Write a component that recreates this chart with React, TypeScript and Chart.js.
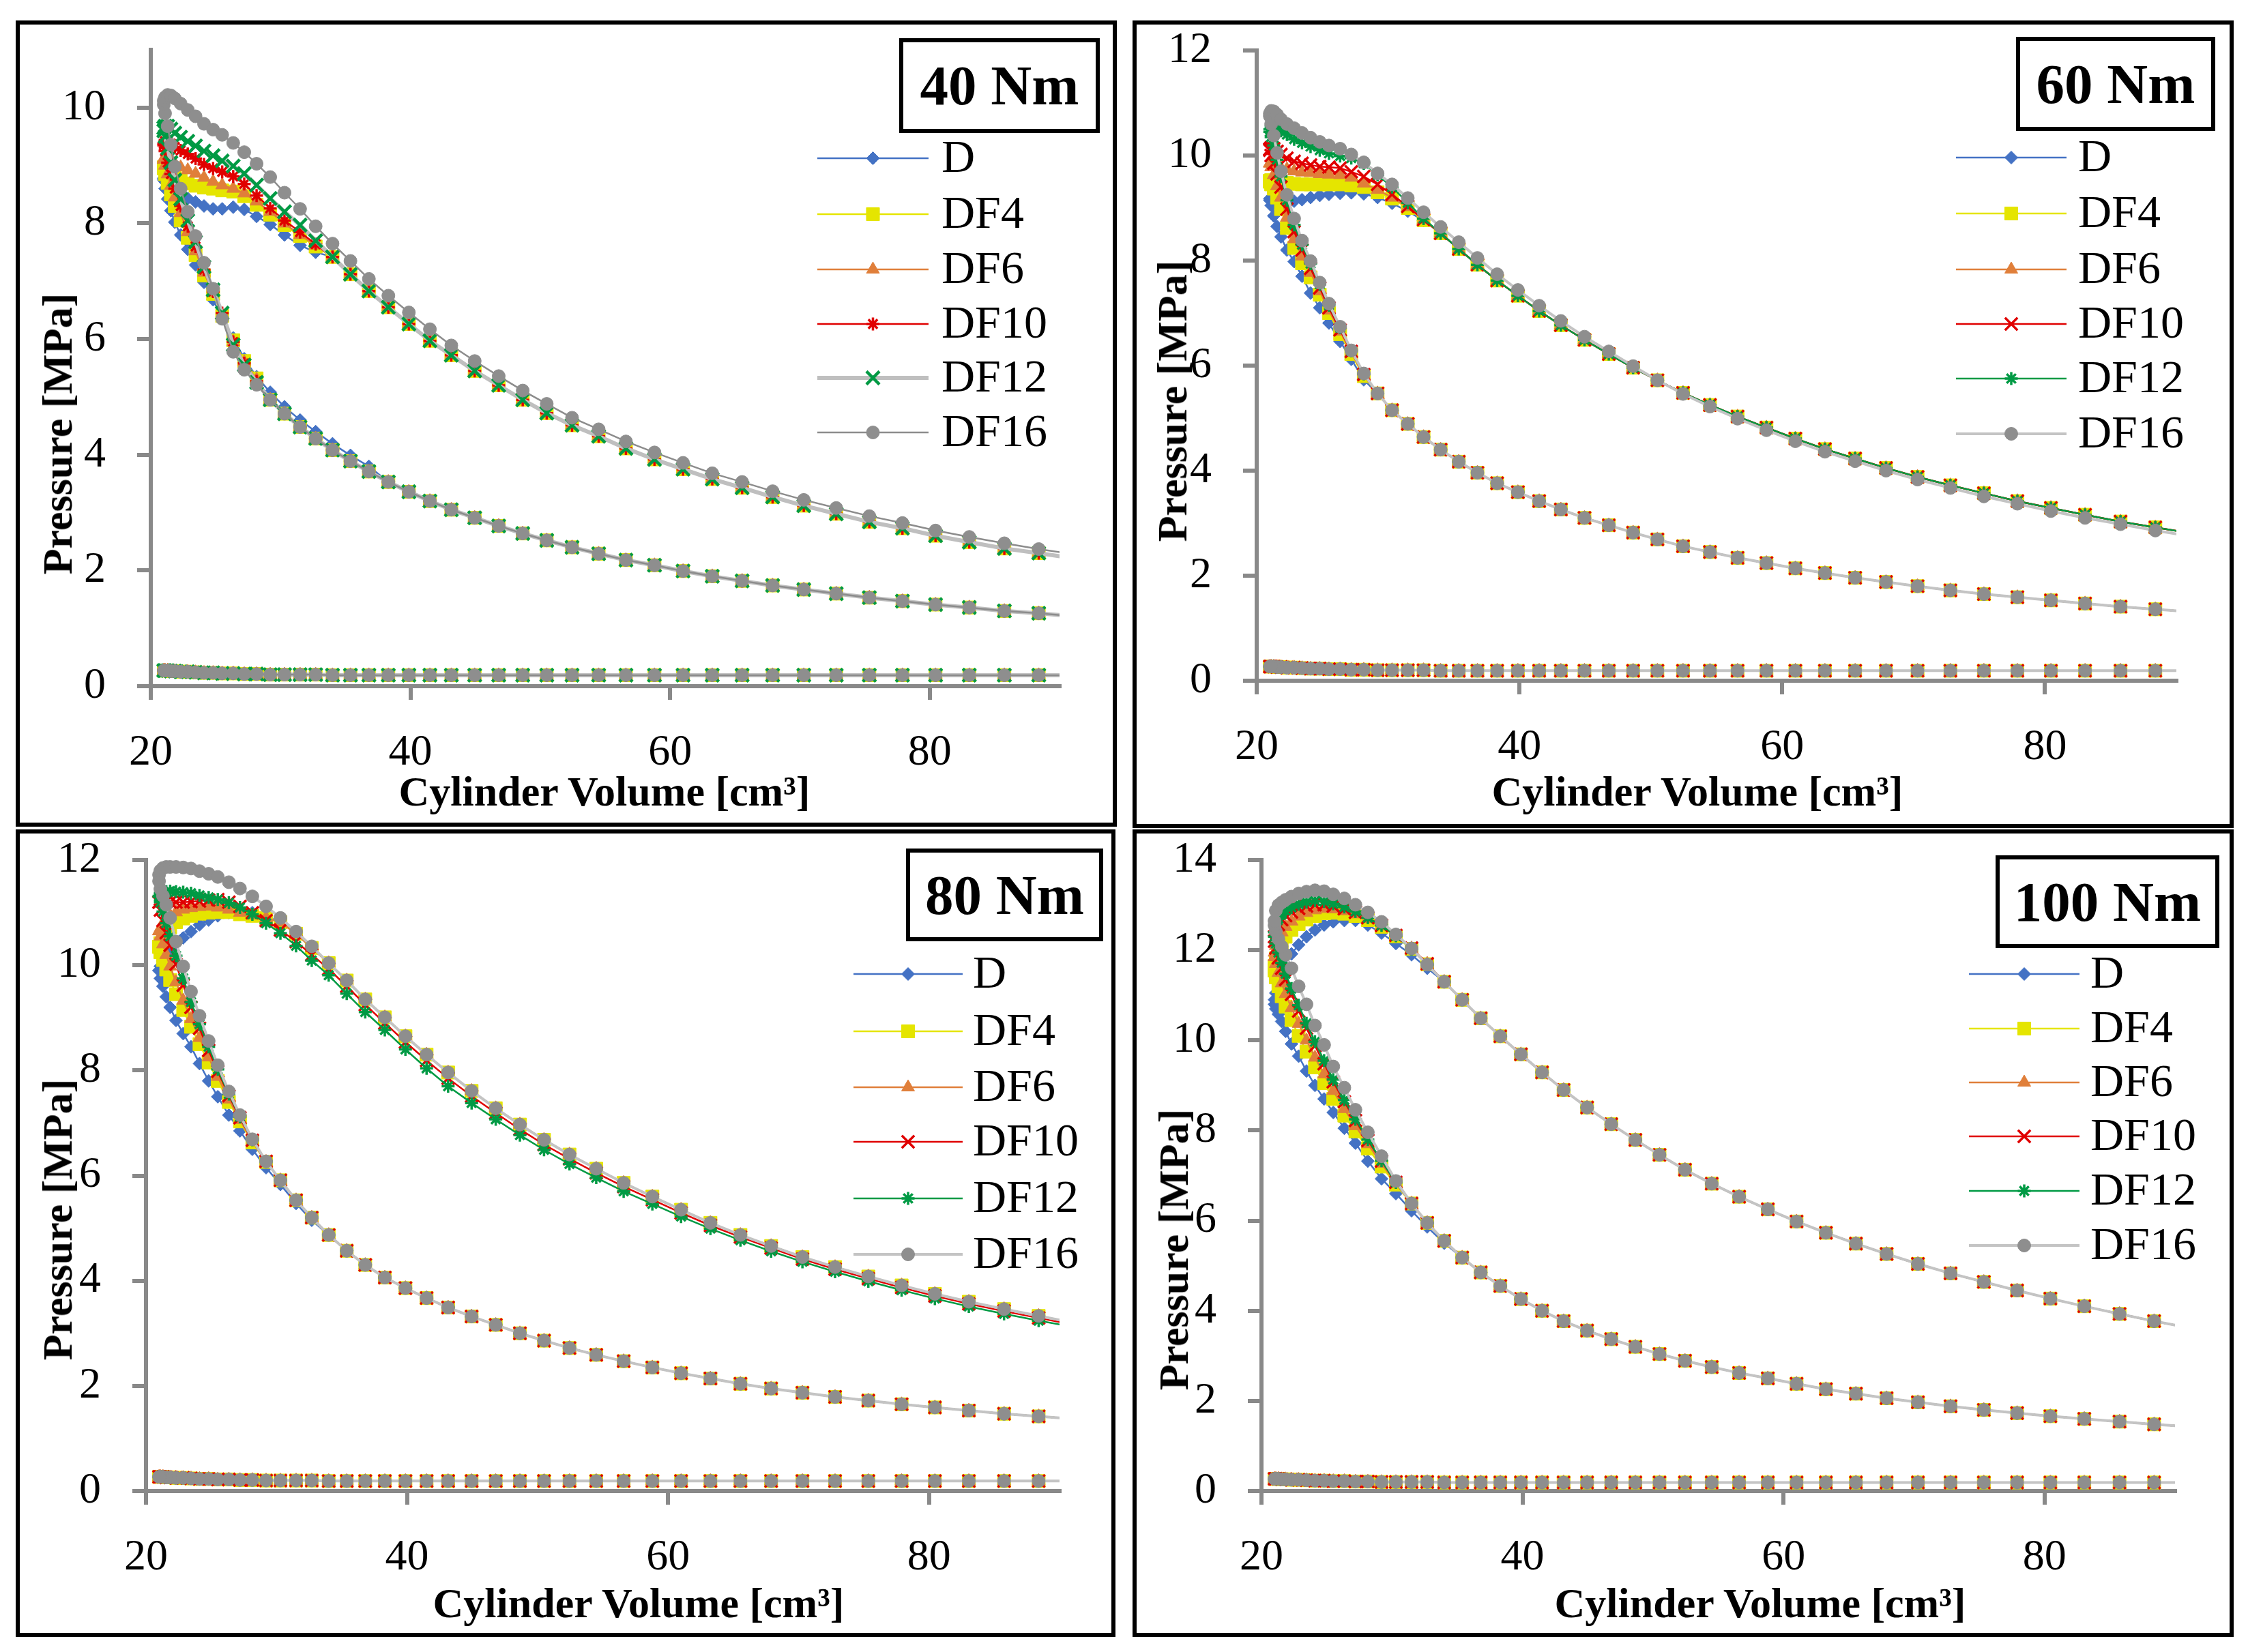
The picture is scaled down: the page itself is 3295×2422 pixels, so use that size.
import React, { useEffect, useRef } from 'react';
import { Chart, registerables } from 'chart.js';

Chart.register(...registerables);

const SERIF = "'Liberation Serif', 'Times New Roman', serif";

// ---------------- data ----------------
const SERIES = ['D', 'DF4', 'DF6', 'DF10', 'DF12', 'DF16'];
const X_TICKS = [20, 40, 60, 80];
const Y_TICKS_40 = [0, 2, 4, 6, 8, 10];
const Y_TICKS_60 = [0, 2, 4, 6, 8, 10, 12];
const Y_TICKS_80 = [0, 2, 4, 6, 8, 10, 12];
const Y_TICKS_100 = [0, 2, 4, 6, 8, 10, 12, 14];

// cylinder volume at each recorded crank step [cm3]
const VOL = [21.0, 21.1, 21.3, 21.55, 21.85, 22.3, 22.85, 23.45, 24.1, 24.8, 25.5, 26.35, 27.2, 28.15, 29.2, 30.3,
  31.5, 32.7, 34.0, 35.38, 36.8, 38.3, 39.88, 41.5, 43.15, 44.95, 46.8, 48.65, 50.5, 52.45, 54.5, 56.6, 58.8, 61.0,
  63.25, 65.55, 67.9, 70.3, 72.8, 75.35, 77.9, 80.45, 83.05, 85.75, 88.4, 91.1];

// gas exchange (low pressure) branch [MPa]
const EXHAUST = [0.27, 0.27, 0.27, 0.26, 0.26, 0.25, 0.25, 0.24, 0.23, 0.23, 0.22, 0.22, 0.21, 0.21, 0.2, 0.2, 0.2, 0.2,
  0.19, 0.19, 0.19, 0.19, 0.19, 0.19, 0.19, 0.19, 0.19, 0.19, 0.19, 0.19, 0.19, 0.19, 0.19, 0.19, 0.19, 0.19, 0.19,
  0.19, 0.19, 0.19, 0.19, 0.19, 0.19, 0.19, 0.19, 0.19];

const COMP_TAIL_START = 14; // tails begin at VOL index 14
const EXP_TAIL_START = 18; // tails begin at VOL index 18

// ----- 40 Nm -----
const COMP40_TAIL = [4.95, 4.71, 4.48, 4.28, 4.08, 3.89, 3.71, 3.53, 3.36, 3.2, 3.05, 2.91, 2.77, 2.64, 2.52, 2.4, 2.29,
  2.18, 2.09, 1.99, 1.9, 1.82, 1.74, 1.67, 1.6, 1.53, 1.47, 1.41, 1.36, 1.3, 1.26, 1.21];
const COMP40_D = [8.75, 8.6, 8.42, 8.22, 8.02, 7.8, 7.55, 7.28, 6.98, 6.68, 6.35, 6.02, 5.66, 5.35, 5.08, 4.83, 4.6, 4.4, 4.19, 3.99, 3.8];
const COMP40_DF4 = [8.95, 8.85, 8.7, 8.5, 8.3, 8.05, 7.75, 7.45, 7.1, 6.78, 6.4, 5.98, 5.62, 5.32];
const COMP40_DF6 = [9.1, 9.0, 8.85, 8.65, 8.45, 8.18, 7.85, 7.52, 7.15, 6.8, 6.42, 5.95, 5.6, 5.3];
const COMP40_DF10 = [9.35, 9.25, 9.05, 8.85, 8.6, 8.3, 7.95, 7.6, 7.2, 6.82, 6.45, 5.95, 5.58, 5.27];
const COMP40_DF12 = [9.6, 9.5, 9.3, 9.05, 8.75, 8.42, 8.05, 7.68, 7.25, 6.85, 6.45, 5.9, 5.55, 5.25];
const COMP40_DF16 = [10.05, 9.9, 9.68, 9.36, 8.98, 8.6, 8.2, 7.78, 7.32, 6.87, 6.35, 5.78, 5.47, 5.21];
const EXP40_D = [8.78, 8.72, 8.65, 8.58, 8.52, 8.48, 8.43, 8.37, 8.3, 8.25, 8.25, 8.28, 8.24, 8.12, 7.98, 7.8, 7.62, 7.5];
const EXP40_DF4 = [8.97, 8.96, 8.93, 8.87, 8.8, 8.74, 8.69, 8.65, 8.62, 8.6, 8.57, 8.55, 8.47, 8.32, 8.15, 7.97, 7.78, 7.6];
const EXP40_DF6 = [9.12, 9.14, 9.12, 9.08, 9.03, 8.97, 8.92, 8.86, 8.79, 8.72, 8.66, 8.6, 8.52, 8.38, 8.2, 8.0, 7.8, 7.62];
const EXP40_DF10 = [9.38, 9.42, 9.42, 9.38, 9.32, 9.26, 9.2, 9.12, 9.02, 8.95, 8.89, 8.81, 8.68, 8.48, 8.26, 8.05, 7.85, 7.64];
const EXP40_DF12 = [9.65, 9.68, 9.68, 9.63, 9.56, 9.49, 9.42, 9.34, 9.25, 9.17, 9.08, 8.99, 8.86, 8.66, 8.43, 8.2, 7.97, 7.7];
const EXP40_DF16 = [10.12, 10.18, 10.22, 10.21, 10.16, 10.07, 9.96, 9.85, 9.72, 9.62, 9.53, 9.39, 9.23, 9.03, 8.8, 8.53, 8.25, 7.95];
const EXP40_TAIL = [7.42, 7.12, 6.83, 6.55, 6.26, 5.97, 5.72, 5.45, 5.2, 4.95, 4.72, 4.51, 4.32, 4.11, 3.92, 3.75, 3.58,
  3.43, 3.27, 3.12, 2.98, 2.84, 2.73, 2.6, 2.49, 2.38, 2.3, 2.21];
const EXP40_TAIL_DF16 = [7.65, 7.35, 7.04, 6.75, 6.46, 6.17, 5.89, 5.62, 5.36, 5.11, 4.88, 4.64, 4.44, 4.23, 4.04, 3.86,
  3.68, 3.53, 3.37, 3.22, 3.08, 2.94, 2.82, 2.69, 2.58, 2.47, 2.37, 2.28];

// ----- 60 Nm -----
const COMP60_TAIL = [5.47, 5.15, 4.89, 4.64, 4.4, 4.17, 3.96, 3.76, 3.59, 3.42, 3.26, 3.1, 2.96, 2.82, 2.69, 2.56, 2.45,
  2.34, 2.24, 2.14, 2.05, 1.96, 1.88, 1.8, 1.72, 1.65, 1.59, 1.53, 1.47, 1.41, 1.36, 1.31];
const COMP60_D = [9.15, 9.05, 8.85, 8.65, 8.45, 8.2, 7.98, 7.7, 7.38, 7.1, 6.81, 6.46, 6.12, 5.73];
const COMP60_DF4 = [9.5, 9.45, 9.37, 9.2, 8.98, 8.62, 8.24, 7.95, 7.68, 7.35, 7.0, 6.6, 6.22, 5.8];
const COMP60_DF6 = [9.85, 9.78, 9.63, 9.42, 9.2, 8.82, 8.41, 8.08, 7.77, 7.42, 7.05, 6.65, 6.25, 5.82];
const COMP60_DF10 = [10.1, 10.0, 9.85, 9.65, 9.4, 8.98, 8.55, 8.2, 7.85, 7.48, 7.1, 6.68, 6.27, 5.83];
const COMP60_DF12 = [10.45, 10.35, 10.19, 9.92, 9.6, 9.15, 8.68, 8.3, 7.94, 7.55, 7.15, 6.72, 6.28, 5.84];
const COMP60_DF16 = [10.75, 10.6, 10.38, 10.05, 9.7, 9.25, 8.8, 8.38, 7.99, 7.58, 7.18, 6.74, 6.29, 5.85];
const EXP60_D = [9.18, 9.13, 9.1, 9.08, 9.08, 9.1, 9.13, 9.16, 9.2, 9.24, 9.26, 9.28, 9.29, 9.27, 9.2, 9.09, 8.94, 8.76];
const EXP60_DF4 = [9.52, 9.53, 9.52, 9.5, 9.49, 9.48, 9.46, 9.45, 9.45, 9.45, 9.45, 9.45, 9.43, 9.4, 9.3, 9.18, 9.0, 8.77];
const EXP60_DF6 = [9.85, 9.86, 9.83, 9.79, 9.76, 9.74, 9.7, 9.68, 9.67, 9.65, 9.64, 9.63, 9.58, 9.47, 9.35, 9.2, 9.02, 8.78];
const EXP60_DF10 = [10.12, 10.15, 10.13, 10.08, 10.02, 9.95, 9.89, 9.85, 9.82, 9.79, 9.78, 9.76, 9.69, 9.6, 9.45, 9.26, 9.03, 8.78];
const EXP60_DF12 = [10.5, 10.55, 10.55, 10.52, 10.47, 10.4, 10.31, 10.24, 10.17, 10.1, 10.04, 9.99, 9.95, 9.85, 9.63, 9.4, 9.1, 8.8];
const EXP60_DF16 = [10.8, 10.85, 10.84, 10.78, 10.69, 10.6, 10.52, 10.43, 10.34, 10.26, 10.19, 10.13, 10.02, 9.87, 9.66, 9.45, 9.19, 8.92];
const EXP60_TAIL = [8.52, 8.22, 7.92, 7.62, 7.33, 7.04, 6.77, 6.49, 6.22, 5.96, 5.72, 5.48, 5.25, 5.03, 4.82, 4.61, 4.41,
  4.23, 4.05, 3.88, 3.72, 3.57, 3.42, 3.29, 3.16, 3.03, 2.92, 2.81];
const EXP60_TAIL_DF16 = [8.64, 8.35, 8.05, 7.74, 7.44, 7.14, 6.85, 6.55, 6.27, 5.99, 5.72, 5.46, 5.22, 4.99, 4.77, 4.56,
  4.36, 4.18, 4.0, 3.83, 3.67, 3.51, 3.37, 3.23, 3.1, 2.98, 2.86, 2.75];

// ----- 80 Nm -----
const COMP80_TAIL = [6.27, 5.91, 5.53, 5.2, 4.87, 4.57, 4.3, 4.06, 3.86, 3.67, 3.49, 3.32, 3.16, 3.0, 2.86, 2.72, 2.59,
  2.47, 2.35, 2.24, 2.14, 2.04, 1.95, 1.87, 1.79, 1.72, 1.65, 1.59, 1.53, 1.47, 1.42, 1.37];
const COMP80_D = [9.9, 9.75, 9.6, 9.4, 9.2, 8.95, 8.7, 8.45, 8.13, 7.8, 7.5, 7.15, 6.85, 6.5, 6.15, 5.83, 5.47, 5.15];
const COMP80_DF4 = [10.35, 10.25, 10.1, 9.92, 9.72, 9.45, 9.15, 8.83, 8.5, 8.15, 7.8, 7.4, 7.03, 6.63, 6.26, 5.91];
const COMP80_DF6 = [10.65, 10.55, 10.4, 10.2, 9.98, 9.68, 9.33, 8.98, 8.62, 8.25, 7.88, 7.45, 7.06, 6.65, 6.26, 5.91];
const COMP80_DF10 = [11.2, 11.05, 10.85, 10.62, 10.38, 10.02, 9.62, 9.2, 8.8, 8.38, 7.98, 7.52, 7.1, 6.67, 6.27, 5.91];
const COMP80_DF12 = [11.3, 11.2, 11.02, 10.8, 10.55, 10.18, 9.75, 9.3, 8.88, 8.45, 8.02, 7.55, 7.12, 6.68, 6.27, 5.91];
const COMP80_DF16 = [11.6, 11.45, 11.32, 11.15, 10.9, 10.45, 9.98, 9.5, 9.04, 8.56, 8.1, 7.6, 7.15, 6.69, 6.27, 5.91];
const EXP80_D = [9.9, 9.98, 10.08, 10.2, 10.3, 10.42, 10.52, 10.64, 10.77, 10.86, 10.94, 11.0, 11.02, 11.0, 10.92, 10.83, 10.6, 10.33];
const EXP80_DF4 = [10.35, 10.42, 10.52, 10.62, 10.72, 10.82, 10.89, 10.94, 10.98, 11.0, 11.01, 11.01, 10.97, 10.94, 10.9, 10.82, 10.6, 10.33];
const EXP80_DF6 = [10.65, 10.7, 10.8, 10.88, 10.95, 11.01, 11.06, 11.09, 11.11, 11.12, 11.1, 11.06, 11.0, 10.95, 10.9, 10.82, 10.6, 10.33];
const EXP80_DF10 = [11.2, 11.22, 11.22, 11.21, 11.2, 11.2, 11.2, 11.21, 11.22, 11.24, 11.25, 11.2, 11.12, 11.0, 10.85, 10.67, 10.45, 10.2];
const EXP80_DF12 = [11.32, 11.36, 11.39, 11.4, 11.41, 11.4, 11.39, 11.37, 11.33, 11.29, 11.25, 11.19, 11.1, 10.97, 10.8, 10.61, 10.37, 10.09];
const EXP80_DF16 = [11.72, 11.8, 11.85, 11.87, 11.87, 11.87, 11.86, 11.84, 11.79, 11.74, 11.68, 11.58, 11.46, 11.31, 11.12, 10.9, 10.64, 10.36];
const EXP80_TAIL = [10.04, 9.71, 9.35, 9.01, 8.65, 8.3, 7.96, 7.61, 7.28, 6.97, 6.68, 6.4, 6.13, 5.86, 5.6, 5.35, 5.1,
  4.87, 4.66, 4.45, 4.26, 4.08, 3.91, 3.75, 3.6, 3.46, 3.33, 3.2];
const EXP80_TAIL_DF10 = [9.93, 9.6, 9.25, 8.9, 8.54, 8.19, 7.85, 7.51, 7.19, 6.88, 6.59, 6.32, 6.05, 5.79, 5.54, 5.29,
  5.05, 4.83, 4.62, 4.41, 4.22, 4.04, 3.87, 3.71, 3.56, 3.42, 3.29, 3.16];
const EXP80_TAIL_DF12 = [9.81, 9.46, 9.11, 8.77, 8.4, 8.04, 7.7, 7.38, 7.07, 6.77, 6.49, 6.22, 5.96, 5.7, 5.46, 5.22,
  4.99, 4.77, 4.56, 4.36, 4.17, 3.99, 3.82, 3.66, 3.51, 3.37, 3.24, 3.12];

// ----- 100 Nm -----
const COMP100_TAIL = [7.43, 6.88, 6.38, 5.95, 5.55, 5.18, 4.85, 4.55, 4.26, 4.0, 3.77, 3.56, 3.37, 3.2, 3.04, 2.89, 2.75,
  2.62, 2.5, 2.38, 2.26, 2.16, 2.06, 1.97, 1.88, 1.8, 1.73, 1.66, 1.6, 1.54, 1.48, 1.43];
const COMP100_D = [10.8, 10.7, 10.58, 10.42, 10.2, 9.92, 9.65, 9.32, 9.0, 8.7, 8.4, 8.05, 7.72, 7.32, 6.93, 6.6, 6.22, 5.86, 5.5];
const COMP100_DF4 = [11.55, 11.4, 11.2, 10.98, 10.75, 10.45, 10.1, 9.75, 9.4, 9.05, 8.7, 8.33, 7.98, 7.6, 7.2, 6.8];
const COMP100_DF6 = [11.85, 11.7, 11.5, 11.27, 11.03, 10.72, 10.37, 10.0, 9.62, 9.25, 8.88, 8.48, 8.1, 7.7, 7.27, 6.83];
const COMP100_DF10 = [12.2, 12.05, 11.83, 11.6, 11.35, 11.02, 10.65, 10.27, 9.88, 9.48, 9.08, 8.64, 8.22, 7.78, 7.32, 6.85];
const COMP100_DF12 = [12.3, 12.15, 11.95, 11.72, 11.48, 11.15, 10.78, 10.38, 9.97, 9.55, 9.13, 8.68, 8.25, 7.8, 7.33, 6.85];
const COMP100_DF16 = [12.55, 12.42, 12.25, 12.08, 11.9, 11.6, 11.2, 10.8, 10.33, 9.9, 9.42, 8.95, 8.46, 7.96, 7.43, 6.88];
const EXP100_D = [10.9, 11.05, 11.25, 11.48, 11.7, 11.92, 12.12, 12.3, 12.45, 12.56, 12.63, 12.66, 12.66, 12.56, 12.38, 12.15, 11.9, 11.6];
const EXP100_DF4 = [11.65, 11.82, 11.98, 12.15, 12.3, 12.45, 12.58, 12.68, 12.76, 12.82, 12.83, 12.81, 12.76, 12.67, 12.52, 12.31, 12.03, 11.69];
const EXP100_DF6 = [11.95, 12.1, 12.25, 12.4, 12.52, 12.64, 12.75, 12.83, 12.89, 12.92, 12.91, 12.87, 12.8, 12.7, 12.53, 12.32, 12.04, 11.7];
const EXP100_DF10 = [12.3, 12.45, 12.57, 12.68, 12.77, 12.85, 12.93, 12.98, 13.01, 13.01, 12.98, 12.92, 12.84, 12.72, 12.55, 12.33, 12.05, 11.7];
const EXP100_DF12 = [12.4, 12.58, 12.7, 12.8, 12.88, 12.95, 13.02, 13.07, 13.1, 13.08, 13.03, 12.96, 12.86, 12.72, 12.55, 12.32, 12.03, 11.68];
const EXP100_DF16 = [12.65, 12.88, 13.0, 13.06, 13.12, 13.19, 13.26, 13.3, 13.33, 13.31, 13.24, 13.15, 13.01, 12.84, 12.63, 12.35, 12.04, 11.68];
const EXP100_TAIL = [11.3, 10.9, 10.49, 10.09, 9.69, 9.29, 8.9, 8.51, 8.14, 7.79, 7.46, 7.13, 6.82, 6.53, 6.25, 5.98,
  5.73, 5.49, 5.26, 5.04, 4.83, 4.64, 4.45, 4.27, 4.1, 3.93, 3.77, 3.62];

// ---------------- styles ----------------
type Style = { color: string; line: string; lw: number; point: string; r: number; bw: number };

const STYLE_MAIN: Record<string, Style> = {
  D: { color: '#4472C4', line: '#4472C4', lw: 2.5, point: 'rectRot', r: 9.5, bw: 1 },
  DF4: { color: '#E5E500', line: '#E5E500', lw: 2.5, point: 'rect', r: 13.5, bw: 1 },
  DF6: { color: '#E07F3A', line: '#E07F3A', lw: 2.5, point: 'triangle', r: 11, bw: 1 },
  DF10: { color: '#E00000', line: '#E00000', lw: 2.5, point: 'crossRot', r: 13, bw: 3.5 },
  DF12: { color: '#009A44', line: '#009A44', lw: 2.5, point: 'star', r: 9.5, bw: 3.5 },
  DF16: { color: '#8E8E8E', line: '#C4C4C4', lw: 4, point: 'circle', r: 9.5, bw: 1 },
};
const STYLE_40: Record<string, Style> = {
  ...STYLE_MAIN,
  DF10: { color: '#E00000', line: '#E00000', lw: 2.5, point: 'star', r: 9.5, bw: 3.5 },
  DF12: { color: '#009A44', line: '#BFBFBF', lw: 6, point: 'crossRot', r: 13.5, bw: 4.5 },
  DF16: { color: '#8E8E8E', line: '#8C8C8C', lw: 2.5, point: 'circle', r: 9.5, bw: 1 },
};

const BW = 6;

const PANELS = [
  {
    title: '40 Nm', yMax: 11, yTicks: Y_TICKS_40, styles: STYLE_40,
    compHead: { D: COMP40_D, DF4: COMP40_DF4, DF6: COMP40_DF6, DF10: COMP40_DF10, DF12: COMP40_DF12, DF16: COMP40_DF16 },
    compTail: COMP40_TAIL,
    expHead: { D: EXP40_D, DF4: EXP40_DF4, DF6: EXP40_DF6, DF10: EXP40_DF10, DF12: EXP40_DF12, DF16: EXP40_DF16 },
    expTail: { D: EXP40_TAIL, DF4: EXP40_TAIL, DF6: EXP40_TAIL, DF10: EXP40_TAIL, DF12: EXP40_TAIL, DF16: EXP40_TAIL_DF16 },
    g: { L: 23, T: 30, W: 1614, H: 1182, ax: 221, axR: 1553, ayTop: 73, ay0: 1006, yT: [84, 636], xT: [886, 1160],
      box: [1318, 56, 1612, 195], leg: { x1: 1198, x2: 1361, tx: 1380, rows: [232, 314, 395, 475, 554, 634] } },
  },
  {
    title: '60 Nm', yMax: 12, yTicks: Y_TICKS_60, styles: STYLE_MAIN,
    compHead: { D: COMP60_D, DF4: COMP60_DF4, DF6: COMP60_DF6, DF10: COMP60_DF10, DF12: COMP60_DF12, DF16: COMP60_DF16 },
    compTail: COMP60_TAIL,
    expHead: { D: EXP60_D, DF4: EXP60_DF4, DF6: EXP60_DF6, DF10: EXP60_DF10, DF12: EXP60_DF12, DF16: EXP60_DF16 },
    expTail: { D: EXP60_TAIL, DF4: EXP60_TAIL, DF6: EXP60_TAIL, DF10: EXP60_TAIL, DF12: EXP60_TAIL, DF16: EXP60_TAIL_DF16 },
    g: { L: 1660, T: 30, W: 1614, H: 1184, ax: 1842, axR: 3190, ayTop: 74, ay0: 998, yT: [1718, 588], xT: [2488, 1160],
      box: [2955, 54, 3247, 192], leg: { x1: 2867, x2: 3029, tx: 3046, rows: [231, 313, 395, 475, 555, 636] } },
  },
  {
    title: '80 Nm', yMax: 12, yTicks: Y_TICKS_80, styles: STYLE_MAIN,
    compHead: { D: COMP80_D, DF4: COMP80_DF4, DF6: COMP80_DF6, DF10: COMP80_DF10, DF12: COMP80_DF12, DF16: COMP80_DF16 },
    compTail: COMP80_TAIL,
    expHead: { D: EXP80_D, DF4: EXP80_DF4, DF6: EXP80_DF6, DF10: EXP80_DF10, DF12: EXP80_DF12, DF16: EXP80_DF16 },
    expTail: { D: EXP80_TAIL, DF4: EXP80_TAIL, DF6: EXP80_TAIL, DF10: EXP80_TAIL_DF10, DF12: EXP80_TAIL_DF12, DF16: EXP80_TAIL },
    g: { L: 23, T: 1216, W: 1612, H: 1184, ax: 214, axR: 1553, ayTop: 1261, ay0: 2186, yT: [84, 1788], xT: [936, 2350],
      box: [1328, 1244, 1617, 1380], leg: { x1: 1251, x2: 1411, tx: 1426, rows: [1428, 1512, 1594, 1674, 1757, 1839] } },
  },
  {
    title: '100 Nm', yMax: 14, yTicks: Y_TICKS_100, styles: STYLE_MAIN,
    compHead: { D: COMP100_D, DF4: COMP100_DF4, DF6: COMP100_DF6, DF10: COMP100_DF10, DF12: COMP100_DF12, DF16: COMP100_DF16 },
    compTail: COMP100_TAIL,
    expHead: { D: EXP100_D, DF4: EXP100_DF4, DF6: EXP100_DF6, DF10: EXP100_DF10, DF12: EXP100_DF12, DF16: EXP100_DF16 },
    expTail: { D: EXP100_TAIL, DF4: EXP100_TAIL, DF6: EXP100_TAIL, DF10: EXP100_TAIL, DF12: EXP100_TAIL, DF16: EXP100_TAIL },
    g: { L: 1660, T: 1216, W: 1614, H: 1184, ax: 1849, axR: 3188, ayTop: 1261, ay0: 2186, yT: [1720, 1832], xT: [2580, 2350],
      box: [2925, 1254, 3253, 1390], leg: { x1: 2886, x2: 3048, tx: 3064, rows: [1428, 1508, 1587, 1666, 1746, 1826] } },
  },
];

function buildPoints(compHead: number[], compTail: number[], expHead: number[], expTail: number[]) {
  const pts: { x: number; y: number | null }[] = [];
  const n = VOL.length;
  for (let i = n - 1; i >= 0; i--) {
    pts.push({ x: VOL[i], y: i < compHead.length ? compHead[i] : compTail[i - COMP_TAIL_START] });
  }
  for (let i = 0; i < n; i++) {
    pts.push({ x: VOL[i], y: i < expHead.length ? expHead[i] : expTail[i - EXP_TAIL_START] });
  }
  pts.push({ x: VOL[n - 1] + 5, y: null });
  for (let i = n - 1; i >= 0; i--) pts.push({ x: VOL[i], y: EXHAUST[i] });
  return pts;
}

function drawMarker(ctx: CanvasRenderingContext2D, st: Style, x: number, y: number) {
  const r = st.r;
  ctx.save();
  ctx.fillStyle = st.color;
  ctx.strokeStyle = st.color;
  ctx.lineWidth = st.bw;
  ctx.beginPath();
  const o = r * Math.SQRT1_2;
  switch (st.point) {
    case 'circle':
      ctx.arc(x, y, r, 0, Math.PI * 2);
      ctx.closePath(); ctx.fill(); ctx.stroke();
      break;
    case 'rect':
      ctx.rect(x - o, y - o, 2 * o, 2 * o);
      ctx.fill(); ctx.stroke();
      break;
    case 'rectRot':
      ctx.moveTo(x - r, y); ctx.lineTo(x, y - r); ctx.lineTo(x + r, y); ctx.lineTo(x, y + r);
      ctx.closePath(); ctx.fill(); ctx.stroke();
      break;
    case 'triangle': {
      let a = 0;
      ctx.moveTo(x + Math.sin(a) * r, y - Math.cos(a) * r);
      a += (2 * Math.PI) / 3;
      ctx.lineTo(x + Math.sin(a) * r, y - Math.cos(a) * r);
      a += (2 * Math.PI) / 3;
      ctx.lineTo(x + Math.sin(a) * r, y - Math.cos(a) * r);
      ctx.closePath(); ctx.fill(); ctx.stroke();
      break;
    }
    case 'crossRot':
      ctx.moveTo(x - o, y - o); ctx.lineTo(x + o, y + o);
      ctx.moveTo(x - o, y + o); ctx.lineTo(x + o, y - o);
      ctx.stroke();
      break;
    case 'star':
      ctx.moveTo(x, y - r); ctx.lineTo(x, y + r);
      ctx.moveTo(x - r, y); ctx.lineTo(x + r, y);
      ctx.moveTo(x - o, y - o); ctx.lineTo(x + o, y + o);
      ctx.moveTo(x - o, y + o); ctx.lineTo(x + o, y - o);
      ctx.stroke();
      break;
    default:
      break;
  }
  ctx.restore();
}

function zeroPadding(s: any) {
  s.paddingTop = 0;
  s.paddingBottom = 0;
  s.paddingLeft = 0;
  s.paddingRight = 0;
}

function PVPanel({ p }: { p: any }) {
  const ref = useRef<HTMLCanvasElement>(null);
  const g = p.g;
  const ox = g.L + BW;
  const oy = g.T + BW;
  const cw = g.W - 2 * BW;
  const ch = g.H - 2 * BW;

  useEffect(() => {
    const yAxisW = g.ax - ox;
    const padTop = g.ayTop - oy;
    const padRight = ox + cw - g.axR;
    const xAxisH = oy + ch - g.ay0;

    const datasets = SERIES.map((name, k) => {
      const st: Style = p.styles[name];
      return {
        label: name,
        data: buildPoints(p.compHead[name], p.compTail, p.expHead[name], p.expTail[name]),
        showLine: true,
        spanGaps: false,
        borderColor: st.line,
        borderWidth: st.lw,
        backgroundColor: st.color,
        pointStyle: st.point,
        pointRadius: st.r,
        pointHoverRadius: st.r,
        pointBackgroundColor: st.color,
        pointBorderColor: st.color,
        pointBorderWidth: st.bw,
        tension: 0,
        order: SERIES.length - k,
        clip: { left: 40, top: 40, right: 0, bottom: 40 },
      };
    });

    const legendPlugin = {
      id: 'pvLegend',
      afterDraw(chart: any) {
        const ctx: CanvasRenderingContext2D = chart.ctx;
        ctx.save();
        SERIES.forEach((name, k) => {
          const st: Style = p.styles[name];
          const y = g.leg.rows[k] - oy;
          const x1 = g.leg.x1 - ox;
          const x2 = g.leg.x2 - ox;
          ctx.strokeStyle = st.line;
          ctx.lineWidth = st.lw;
          ctx.beginPath();
          ctx.moveTo(x1, y);
          ctx.lineTo(x2, y);
          ctx.stroke();
          drawMarker(ctx, st, (x1 + x2) / 2, y);
          ctx.fillStyle = '#000';
          ctx.font = `68px ${SERIF}`;
          ctx.textAlign = 'left';
          ctx.textBaseline = 'middle';
          ctx.fillText(name, g.leg.tx - ox, y + 2);
        });
        ctx.restore();
      },
    };

    const axisGrid = {
      display: true,
      drawOnChartArea: false,
      drawTicks: true,
      tickLength: 20,
      tickWidth: 6,
      tickColor: '#898989',
      color: '#898989',
      lineWidth: 6,
    };
    const axisBorder = { display: true, color: '#898989', width: 6 };

    const chart = new Chart(ref.current as HTMLCanvasElement, {
      type: 'scatter',
      data: { datasets } as any,
      options: {
        animation: false,
        responsive: false,
        devicePixelRatio: 1,
        events: [],
        layout: { autoPadding: false, padding: { left: 0, top: padTop, right: padRight, bottom: 0 } },
        plugins: { legend: { display: false }, tooltip: { enabled: false }, title: { display: false } },
        scales: {
          x: {
            type: 'linear',
            min: 20,
            max: 90,
            afterBuildTicks: (s: any) => { s.ticks = X_TICKS.map((v) => ({ value: v })); },
            afterFit: (s: any) => { s.height = xAxisH; zeroPadding(s); },
            grid: axisGrid,
            border: axisBorder,
            ticks: { autoSkip: false, maxRotation: 0, minRotation: 0, padding: 40, color: '#000', font: { family: SERIF, size: 64 } },
          },
          y: {
            type: 'linear',
            min: 0,
            max: p.yMax,
            afterBuildTicks: (s: any) => { s.ticks = p.yTicks.map((v: number) => ({ value: v })); },
            afterFit: (s: any) => { s.width = yAxisW; zeroPadding(s); },
            grid: axisGrid,
            border: axisBorder,
            ticks: { autoSkip: false, padding: 46, color: '#000', font: { family: SERIF, size: 64 } },
          },
        },
      } as any,
      plugins: [legendPlugin],
    });
    return () => chart.destroy();
  }, []);

  const bx = g.box;
  return (
    <div style={{ position: 'absolute', left: g.L, top: g.T, width: g.W, height: g.H, border: `${BW}px solid #000`, boxSizing: 'border-box', background: '#fff' }}>
      <canvas ref={ref} width={cw} height={ch} style={{ position: 'absolute', left: 0, top: 0, width: cw, height: ch }} />
      <div style={{ position: 'absolute', left: g.yT[0] - ox, top: g.yT[1] - oy, transform: 'translate(-50%, -50%) rotate(-90deg)', font: `bold 62px ${SERIF}`, lineHeight: 1, whiteSpace: 'nowrap', color: '#000' }}>
        Pressure [MPa]
      </div>
      <div style={{ position: 'absolute', left: g.xT[0] - ox, top: g.xT[1] - oy, transform: 'translate(-50%, -50%)', font: `bold 62px ${SERIF}`, lineHeight: 1, whiteSpace: 'nowrap', color: '#000' }}>
        Cylinder Volume [cm³]
      </div>
      <div style={{ position: 'absolute', left: bx[0] - ox, top: bx[1] - oy, width: bx[2] - bx[0], height: bx[3] - bx[1], border: '6px solid #000', boxSizing: 'border-box', background: '#fff', display: 'flex', alignItems: 'center', justifyContent: 'center', font: `bold 83px ${SERIF}`, lineHeight: 1, whiteSpace: 'nowrap', color: '#000' }}>
        {p.title}
      </div>
    </div>
  );
}

export default function App() {
  return (
    <div style={{ position: 'absolute', left: 0, top: 0, width: 3295, height: 2422, background: '#fff', overflow: 'hidden' }}>
      {PANELS.map((p) => (
        <PVPanel key={p.title} p={p} />
      ))}
    </div>
  );
}
